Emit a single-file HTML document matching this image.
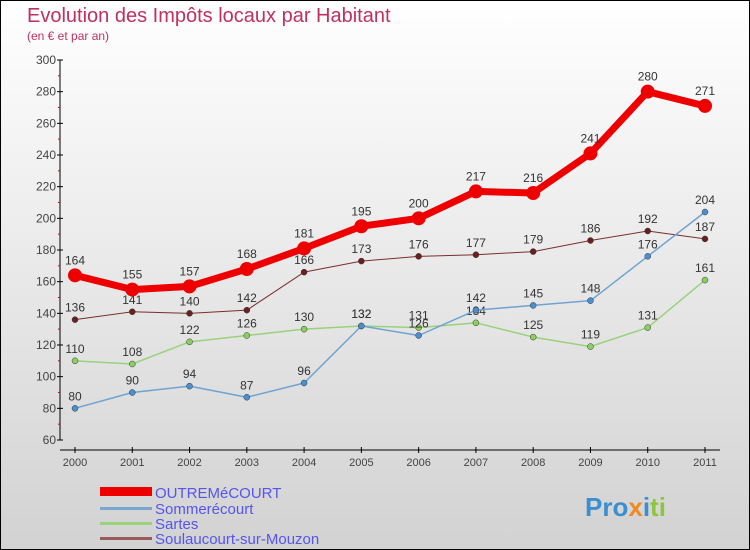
<!DOCTYPE html>
<html><head><meta charset="utf-8"><style>
body{margin:0}
#c{width:750px;height:550px;position:relative;overflow:hidden}
svg text{font-family:"Liberation Sans",sans-serif}
</style></head><body>
<div id="c">
<svg id="s" width="750" height="550" xmlns="http://www.w3.org/2000/svg">
<defs><linearGradient id="bg" x1="0" y1="0" x2="0" y2="1"><stop offset="0" stop-color="#ffffff"/><stop offset="1" stop-color="#d2d2d2"/></linearGradient></defs>
<rect x="0.5" y="0.5" width="749" height="549" fill="url(#bg)" stroke="#000"/>
<text x="27" y="22" font-size="20" fill="#c0305f">Evolution des Impôts locaux par Habitant</text>
<text x="27" y="40" font-size="12" fill="#c0305f">(en € et par an)</text>
<g id="axes"></g><g id="series"></g>
<g>
<rect x="100" y="487" width="52" height="9" fill="#e00"/>
<text x="155" y="498" font-size="15" fill="#5555ee">OUTREMéCOURT</text>
<rect x="100" y="507" width="52" height="3" fill="#79a8d2"/>
<text x="155" y="514" font-size="15" fill="#5555ee">Sommerécourt</text>
<rect x="100" y="522" width="52" height="3" fill="#99d27a"/>
<text x="155" y="529" font-size="15" fill="#5555ee">Sartes</text>
<rect x="100" y="537" width="52" height="3" fill="#9a5a5a"/>
<text x="155" y="544" font-size="15" fill="#5555ee">Soulaucourt-sur-Mouzon</text>
</g>
<text x="585" y="516" font-size="26" font-weight="bold"><tspan fill="#3a8fd0">Pro</tspan><tspan fill="#f08a20">x</tspan><tspan fill="#3a8fd0">i</tspan><tspan fill="#8cc63f">ti</tspan></text>
</svg></div>
<script>
const years=[2000,2001,2002,2003,2004,2005,2006,2007,2008,2009,2010,2011];
const yTicks=[60,80,100,120,140,160,180,200,220,240,260,280,300];
const outremecourt=[164,155,157,168,181,195,200,217,216,241,280,271];
const sommerecourt=[80,90,94,87,96,132,126,142,145,148,176,204];
const sartes=[110,108,122,126,130,132,131,134,125,119,131,161];
const soulaucourt=[136,141,140,142,166,173,176,177,179,186,192,187];
const NS="http://www.w3.org/2000/svg";
function xS(i){return 75+i*(630/11);}
function yS(v){return 440-(v-60)*380/240;}
function mk(t,a,p){const e=document.createElementNS(NS,t);for(const k in a)e.setAttribute(k,a[k]);p.appendChild(e);return e;}
const ax=document.getElementById('axes');
let l=mk('line',{x1:60,y1:60,x2:60,y2:440,stroke:'#000'},ax);


yTicks.forEach(v=>{const y=yS(v);
 mk('line',{x1:57,y1:y,x2:63,y2:y,stroke:'#000'},ax);
 mk('line',{x1:58,y1:y+15.8,x2:60,y2:y+15.8,stroke:v>60?'#d00':'none'},ax);
 const t=mk('text',{x:56,y:y+4,'font-size':12,fill:'#444','text-anchor':'end'},ax);t.textContent=v;
 
 });
l=mk('line',{x1:60,y1:450,x2:720,y2:450,stroke:'#000'},ax);


years.forEach((yr,i)=>{const x=xS(i);
 mk('line',{x1:x,y1:447,x2:x,y2:453,stroke:'#000'},ax);
 const t=mk('text',{x:x,y:466,'font-size':11,fill:'#444','text-anchor':'middle'},ax);t.textContent=yr;
 
 });
const sg=document.getElementById('series');
function draw(name,data,color,dot,w,r){
 const g=mk('g',{},sg);
 
 
 const p=mk('polyline',{points:data.map((v,i)=>xS(i)+','+yS(v)).join(' '),fill:'none',stroke:color,'stroke-width':w,'stroke-linejoin':'round'},g);
 
 
 data.forEach((v,i)=>{const c=mk('circle',{cx:xS(i),cy:yS(v),r:r,fill:dot,stroke:w>3?'none':'#333','stroke-width':0.5},g);
  
  
  const t=mk('text',{x:xS(i),y:yS(v)-(w>3?11:8),'font-size':12,fill:'#333','text-anchor':'middle'},g);t.textContent=v;
  
  });
}
draw('soulaucourt',soulaucourt,'#7a2e2e','#6b1f1f',1,3);
draw('sartes',sartes,'#99d27a','#8ad060',1.5,3);
draw('sommerecourt',sommerecourt,'#6fa3d0','#4a90d0',1.5,3);
draw('outremecourt',outremecourt,'#ee0000','#ee0000',7,7);
</script></body></html>
